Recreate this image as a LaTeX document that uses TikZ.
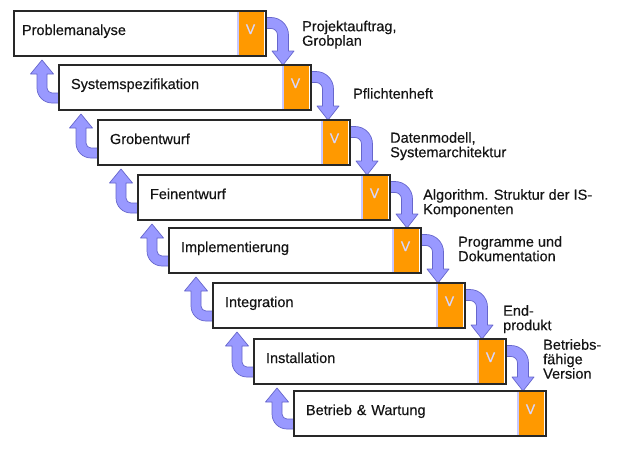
\documentclass[tikz,border=0pt]{standalone}
\usepackage{fontspec}
\setmainfont{Liberation Sans}[FakeBold=0.35]
\usetikzlibrary{calc,backgrounds}
\definecolor{vorange}{RGB}{255,153,0}
\definecolor{lav}{RGB}{200,200,255}
\definecolor{vtext}{RGB}{214,214,255}
\definecolor{arrfill}{RGB}{153,153,255}
\definecolor{arrline}{RGB}{102,102,204}
\definecolor{framecol}{RGB}{40,40,40}
\definecolor{txt}{RGB}{20,20,20}

\tikzset{
  stagebox/.style={draw=framecol, line width=1.4pt, fill=white, rectangle,
    anchor=north west, minimum height=45pt, text width=228pt, inner xsep=12pt,
    inner ysep=0pt, outer sep=0pt, align=left, text height=10pt, text depth=7pt,
    text=txt, font=\fontsize{14.5}{15}\selectfont},
  vmark/.style={anchor=base, text=vtext, inner sep=0pt, font=\fontsize{14}{14}\selectfont},
  flowlabel/.style={anchor=north west, inner sep=0pt, align=left, text=txt,
    font=\fontsize{14.5}{14.5}\selectfont},
  bentarrow/.style={fill=arrfill, draw=arrline, line width=0.7pt, line join=round},
}

\newcommand\stage[4]{%
  \node[stagebox] (#1) at (#2,#3) {#4};
  \fill[vorange] ([xshift=-29pt,yshift=-0.7pt]#1.north east) rectangle ([xshift=-2pt,yshift=0.7pt]#1.south east);
  \draw[lav, line width=1.5pt] ([xshift=-28.25pt,yshift=-0.7pt]#1.north east) -- ([xshift=-28.25pt,yshift=0.7pt]#1.south east);
  \node[vmark] (#1v) at ([xshift=-15.5pt,yshift=-23pt]#1.north east) {V};
}

% down arrow from right side of #1 to top of #2
\newcommand\downflow[2]{%
  \path[bentarrow] let \p1=(#1.north east), \p2=(#2.north) in
    (\x1,\y1-6.5pt) -- (\x1+5pt,\y1-6.5pt)
    arc[start angle=90,end angle=0,radius=17.5pt]
    -- (\x1+22.5pt,\y2+14pt) -- (\x1+28pt,\y2+14pt) -- (\x1+17pt,\y2)
    -- (\x1+6pt,\y2+14pt) -- (\x1+11.5pt,\y2+14pt) -- (\x1+11.5pt,\y1-24pt)
    arc[start angle=0,end angle=90,radius=6.5pt]
    -- (\x1,\y1-17.5pt) -- cycle;
}
% up arrow from left side of #1 to bottom of #2
\newcommand\upflow[2]{%
  \path[bentarrow] let \p1=(#1.south west), \p2=(#2.south) in
    (\x1,\y1+7pt) -- (\x1-7pt,\y1+7pt)
    arc[start angle=270,end angle=180,radius=15pt]
    -- (\x1-22pt,\y2-18pt) -- (\x1-28.5pt,\y2-18pt) -- (\x1-17pt,\y2-4pt)
    -- (\x1-5.5pt,\y2-18pt) -- (\x1-12pt,\y2-18pt) -- (\x1-12pt,\y1+22pt)
    arc[start angle=180,end angle=270,radius=5pt]
    -- (\x1,\y1+17pt) -- cycle;
}

\begin{document}
\begin{tikzpicture}[x=1pt,y=-1pt]
\useasboundingbox (0,0) rectangle (618,450);

\stage{b1}{14}{11}{\hspace*{-4pt}Problemanalyse}
\stage{b2}{59}{65}{Systemspezifikation}
\stage{b3}{98}{120}{Grobentwurf}
\stage{b4}{138}{175}{Feinentwurf}
\stage{b5}{169}{228}{Implementierung}
\stage{b6}{213}{283}{Integration}
\stage{b7}{254}{339}{Installation}
\stage{b8}{294}{391}{Betrieb \& Wartung}

\begin{pgfonlayer}{background}
\downflow{b1}{b2}
\downflow{b2}{b3}
\downflow{b3}{b4}
\downflow{b4}{b5}
\downflow{b5}{b6}
\downflow{b6}{b7}
\downflow{b7}{b8}
\upflow{b2}{b1}
\upflow{b3}{b2}
\upflow{b4}{b3}
\upflow{b5}{b4}
\upflow{b6}{b5}
\upflow{b7}{b6}
\upflow{b8}{b7}
\end{pgfonlayer}

\node[flowlabel] (l1) at (302,20.5) {Projektauftrag,\\Grobplan};
\node[flowlabel] (l2) at (353,88) {Pflichtenheft};
\node[flowlabel] (l3) at (390,132) {Datenmodell,\\Systemarchitektur};
\node[flowlabel] (l4) at (423,189) {Algorithm. Struktur der IS-\\Komponenten};
\node[flowlabel] (l5) at (458,236) {Programme und\\Dokumentation};
\node[flowlabel] (l6) at (503,305) {End-\\produkt};
\node[flowlabel] (l7) at (543,339) {Betriebs-\\fähige\\Version};
\end{tikzpicture}
\end{document}
